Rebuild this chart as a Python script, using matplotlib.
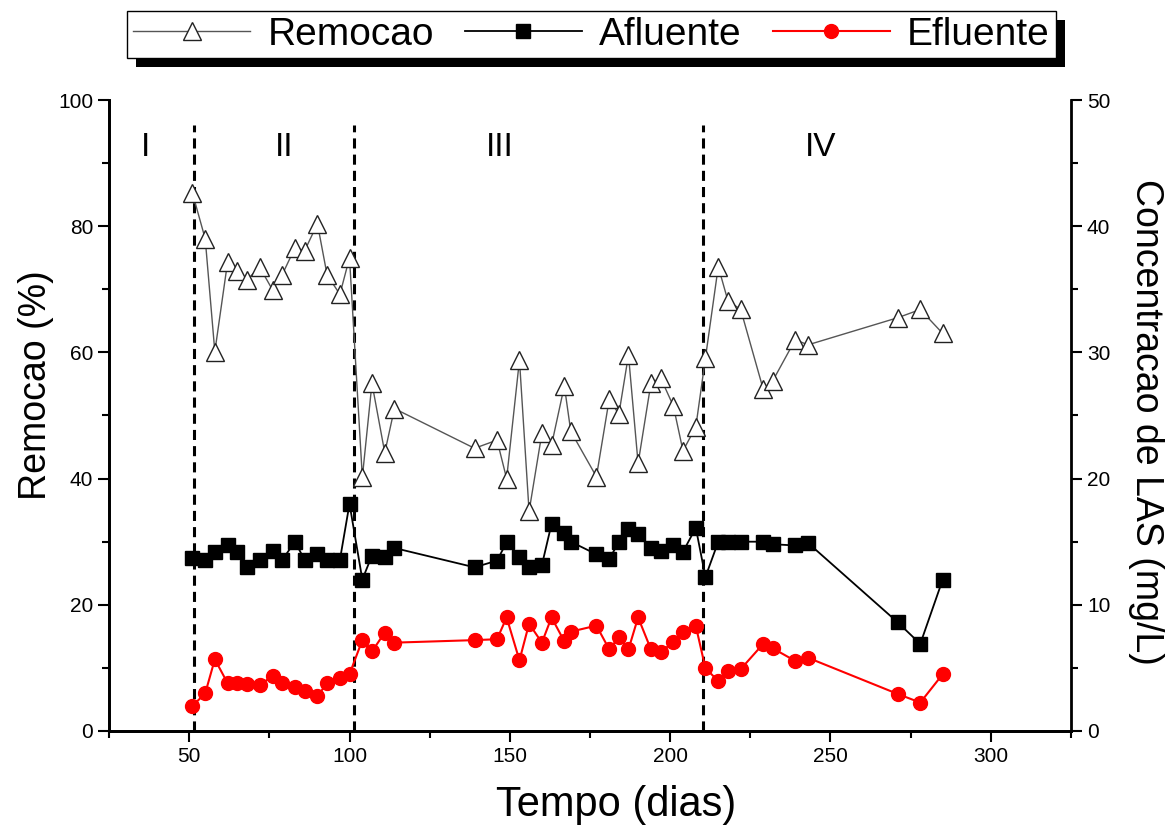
import matplotlib
matplotlib.use("Agg")
import matplotlib.pyplot as plt
from matplotlib.patches import Rectangle
from matplotlib.ticker import MultipleLocator
from matplotlib.transforms import IdentityTransform

plt.rcParams["font.family"] = ["Liberation Sans", "DejaVu Sans"]

# sampling days (same for all three series)
dias = [51, 55, 58, 62, 65, 68, 72, 76, 79, 83, 86, 90, 93, 97, 100,
        104, 107, 111, 114,
        139, 146, 149, 153, 156, 160, 163, 167, 169,
        177, 181, 184, 187, 190, 194, 197, 201, 204, 208,
        211, 215, 218, 222, 229, 232, 239, 243,
        271, 278, 285]

# removal efficiency (%) - left axis
remocao = [85.3, 78.0, 60.1, 74.4, 72.9, 71.5, 73.5, 69.9, 72.3, 76.6, 76.1, 80.4, 72.3, 69.2, 75.0,
           40.2, 55.1, 44.1, 51.1,
           44.8, 46.1, 40.0, 58.8, 34.8, 47.2, 45.3, 54.7, 47.5,
           40.3, 52.6, 50.2, 59.6, 42.4, 55.1, 56.0, 51.5, 44.4, 48.2,
           59.1, 73.6, 68.2, 66.8, 54.2, 55.5, 62.0, 61.2,
           65.5, 66.8, 63.0]

# LAS concentration (mg/L) - right axis
afluente = [13.7, 13.55, 14.2, 14.7, 14.2, 12.97, 13.55, 14.3, 13.55, 15.0, 13.55, 14.0, 13.55, 13.55, 18.0,
            12.0, 13.9, 13.8, 14.5,
            12.97, 13.5, 14.95, 13.76, 13.0, 13.15, 16.4, 15.7, 15.0,
            14.0, 13.6, 15.0, 16.0, 15.6, 14.5, 14.3, 14.7, 14.2, 16.1,
            12.2, 15.0, 15.0, 15.0, 15.0, 14.8, 14.7, 14.9,
            8.6, 6.9, 12.0]

efluente = [1.98, 2.98, 5.68, 3.78, 3.83, 3.72, 3.64, 4.36, 3.78, 3.46, 3.2, 2.77, 3.78, 4.17, 4.5,
            7.2, 6.3, 7.8, 7.0,
            7.2, 7.27, 9.0, 5.6, 8.5, 7.0, 9.0, 7.1, 7.87,
            8.35, 6.47, 7.42, 6.47, 9.0, 6.47, 6.23, 7.07, 7.87, 8.32,
            4.97, 3.96, 4.78, 4.9, 6.9, 6.55, 5.55, 5.8,
            2.93, 2.25, 4.5]

# phase boundaries and labels
fases_lim = [51.6, 101.3, 210.3]
fases_nome = ["I", "II", "III", "IV"]
fases_pos = [36.5, 79.6, 147, 247]

fig = plt.figure(figsize=(11.76, 8.3), dpi=100)
ax = fig.add_axes([0.0927, 0.1193, 0.8180, 0.7602])
ax2 = ax.twinx()

l1, = ax.plot(dias, remocao, color="#555555", lw=1.0, marker="^", ms=13,
              mfc="white", mec="#222222", mew=1.0, label="Remocao", zorder=3)
l2, = ax2.plot(dias, afluente, color="black", lw=1.3, marker="s", ms=10,
               label="Afluente", zorder=3)
l3, = ax2.plot(dias, efluente, color="red", lw=1.5, marker="o", ms=10,
               mec="red", label="Efluente", zorder=3)

for x in fases_lim:
    ax.plot([x, x], [0, 96], color="black", lw=2.2, dashes=(3.3, 2.0), zorder=2)
for nome, x in zip(fases_nome, fases_pos):
    ax.text(x, 92.5, nome, ha="center", va="center", fontsize=24)

ax.set_xlim(25, 325)
ax.set_ylim(0, 100)
ax2.set_ylim(0, 50)

ax.xaxis.set_major_locator(MultipleLocator(50))
ax.xaxis.set_minor_locator(MultipleLocator(25))
ax.yaxis.set_major_locator(MultipleLocator(20))
ax.yaxis.set_minor_locator(MultipleLocator(10))
ax2.yaxis.set_major_locator(MultipleLocator(10))
ax2.yaxis.set_minor_locator(MultipleLocator(5))
ax.set_xticks([50, 100, 150, 200, 250, 300])

for a in (ax, ax2):
    a.spines["top"].set_visible(False)
    for s in ("left", "right", "bottom"):
        a.spines[s].set_linewidth(2)
    a.tick_params(which="major", direction="out", length=8, width=1.5, labelsize=15)
    a.tick_params(which="minor", direction="out", length=5, width=1.5)
ax.spines["right"].set_visible(False)

ax.set_xlabel("Tempo (dias)", fontsize=30)
ax.xaxis.set_label_coords(0.527, -0.085)
ax.set_ylabel("Remocao (%)", fontsize=27)
ax.yaxis.set_label_coords(-0.057, 0.548)
ax2.set_ylabel("Concentracao de LAS (mg/L)", fontsize=27, rotation=270)
ax2.yaxis.set_label_coords(1.097, 0.49)

leg = fig.legend([l1, l2, l3], ["Remocao", "Afluente", "Efluente"], ncol=3,
                 loc="upper center", bbox_to_anchor=(0.503, 0.987), fontsize=28,
                 frameon=True, fancybox=False, framealpha=1, handlelength=3.0,
                 handletextpad=0.45, columnspacing=0.8, borderpad=0.15,
                 borderaxespad=0)
leg.get_frame().set_edgecolor("black")
leg.get_frame().set_facecolor("white")
leg.get_frame().set_linewidth(1.0)
leg.set_zorder(6)

# black drop shadow behind the legend box
fig.canvas.draw()
bb = leg.get_window_extent()
fig.patches.append(Rectangle((bb.x0 + 9, bb.y0 - 9), bb.width, bb.height,
                             transform=IdentityTransform(), facecolor="black",
                             edgecolor="none", zorder=5))

fig.savefig("out.png", dpi=100)
